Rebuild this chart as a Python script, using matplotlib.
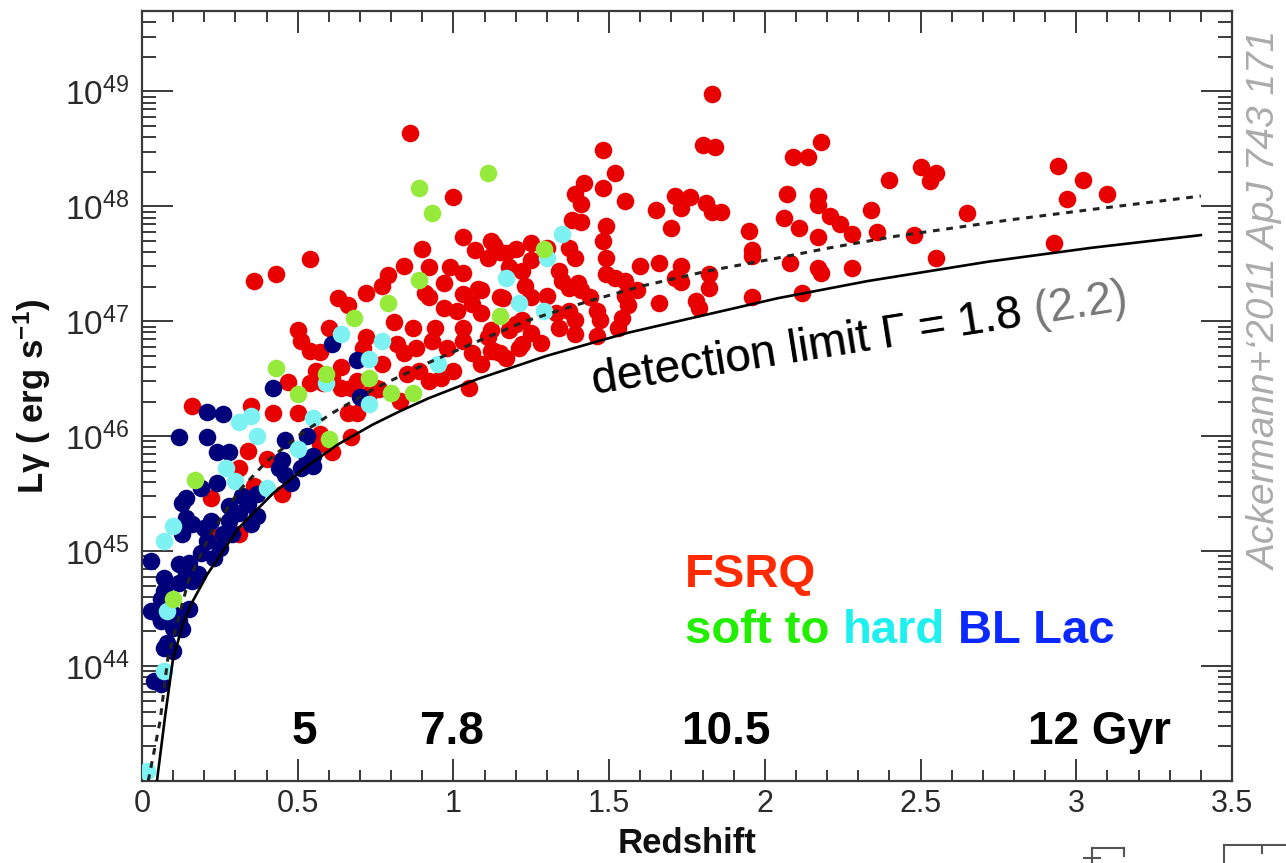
import numpy as np
import matplotlib.pyplot as plt
from matplotlib.ticker import LogLocator, MultipleLocator, FuncFormatter, NullFormatter

plt.rcParams['font.family'] = ['Liberation Sans', 'DejaVu Sans']
plt.rcParams['mathtext.fontset'] = 'custom'
plt.rcParams['mathtext.rm'] = 'Liberation Sans'
plt.rcParams['mathtext.it'] = 'Liberation Sans:italic'
plt.rcParams['mathtext.bf'] = 'Liberation Sans:bold'

# FSRQ (redshift, log10 L)
fsrq_z = [2.18, 2.09, 2.14, 2.07, 2.17, 2.17, 2.06, 2.21, 2.24, 2.11, 1.95, 2.17, 2.28, 2.34,
          2.36, 2.40, 2.50, 2.55, 2.53, 2.65, 2.48, 2.55, 1.96, 1.96, 2.08, 2.17, 2.18, 2.28,
          1.96, 2.12, 2.94, 3.02, 2.97, 3.10, 2.93,
          1.83, 1.80, 1.84, 1.48, 1.52, 1.00, 0.86, 1.42,
          1.39, 1.48, 1.55, 1.41, 1.65, 1.71, 1.73, 1.76, 1.81, 1.83, 1.86, 1.38, 1.41, 1.49,
          1.70, 1.48, 1.49, 1.66, 1.60, 1.73, 1.82, 1.82, 1.71, 1.73, 1.49, 1.52, 1.55, 1.59,
          1.55, 1.66, 1.78, 1.79, 1.56, 1.54, 1.53, 1.46, 1.47, 1.46, 1.39, 1.39, 1.37, 1.41,
          1.40, 1.44, 1.33, 1.34, 1.28, 1.22, 1.25, 1.20, 1.30, 1.25, 1.15, 1.09, 1.11, 1.12,
          1.15, 1.09, 1.12, 1.20, 1.25, 1.30, 1.15, 1.11, 1.18, 1.22, 1.25, 1.34, 1.37, 1.39,
          1.35, 1.37, 1.23,
          0.54, 0.43, 0.36, 1.03, 0.90, 0.84, 0.92, 0.99, 1.03, 1.07, 1.13, 1.17, 0.79, 0.77,
          0.72, 0.63, 0.66, 0.97, 0.91, 0.92, 1.03, 1.08, 1.06, 1.16, 0.97, 1.01, 1.09, 0.81,
          0.87, 0.94, 1.03, 1.12, 1.18, 1.22, 0.50, 0.60, 0.51, 0.72, 0.71, 0.54, 0.57, 0.82,
          0.84, 0.88, 0.93, 0.98, 1.03, 1.06, 1.13, 1.17, 1.21, 0.77, 0.85, 0.89, 0.92, 0.96,
          1.00, 1.05, 0.64, 0.61, 0.56, 0.58, 0.54, 0.47, 0.67, 0.69, 0.75, 0.73, 0.83, 0.66,
          0.69, 0.42, 0.50, 0.35, 0.67,
          0.16, 0.64, 0.76, 0.57, 0.57, 0.61, 0.34, 0.40, 0.31, 0.36, 0.45, 0.22, 0.24, 0.31]
fsrq_logL = [48.56, 48.43, 48.43, 48.11, 48.09, 48.01, 47.90, 47.92, 47.85, 47.81, 47.79, 47.73, 47.76, 47.97,
             47.78, 48.23, 48.34, 48.29, 48.22, 47.94, 47.75, 47.55, 47.62, 47.57, 47.51, 47.46, 47.42, 47.46,
             47.21, 47.25, 48.35, 48.23, 48.06, 48.11, 47.68,
             48.98, 48.53, 48.52, 48.49, 48.29, 48.08, 48.64, 48.20,
             48.11, 48.16, 48.05, 48.02, 47.97, 48.09, 47.99, 48.08, 48.03, 47.95, 47.95, 47.88, 47.86, 47.83,
             47.81, 47.70, 47.55, 47.51, 47.48, 47.48, 47.41, 47.29, 47.38, 47.34, 47.41, 47.38, 47.35, 47.27,
             47.22, 47.16, 47.18, 47.12, 47.14, 47.03, 46.94, 47.09, 47.01, 46.87, 47.01, 46.89, 47.09, 47.27,
             47.33, 47.21, 47.07, 46.94, 46.81, 46.80, 46.90, 46.98, 47.22, 47.21, 47.21, 47.27, 46.86, 46.74,
             46.72, 46.63, 47.70, 47.63, 47.68, 47.64, 47.60, 47.55, 47.47, 47.44, 47.53, 47.44, 47.64, 47.55,
             47.35, 47.29, 47.31,
             47.54, 47.41, 47.35, 47.73, 47.63, 47.48, 47.47, 47.47, 47.42, 47.62, 47.66, 47.59, 47.40, 47.31,
             47.25, 47.20, 47.14, 47.33, 47.25, 47.21, 47.24, 47.28, 47.15, 47.20, 47.12, 47.09, 47.07, 46.99,
             46.94, 46.94, 46.94, 46.92, 46.92, 47.01, 46.92, 46.94, 46.83, 46.86, 46.77, 46.74, 46.73, 46.80,
             46.72, 46.77, 46.83, 46.77, 46.83, 46.72, 46.74, 46.68, 46.77, 46.63, 46.54, 46.57, 46.48, 46.51,
             46.57, 46.42, 46.60, 46.51, 46.57, 46.46, 46.46, 46.47, 46.42, 46.48, 46.42, 46.37, 46.31, 46.20,
             46.20, 46.20, 46.20, 46.26, 45.99,
             46.26, 46.42, 46.41, 46.02, 45.93, 45.86, 45.87, 45.80, 45.72, 45.57, 45.50, 45.46, 45.12, 45.15]

# soft (green), hard (cyan) and BL Lac (navy) sources
soft_z = [0.89, 0.93, 1.11, 1.29, 1.15, 0.89, 0.79, 0.68, 0.43, 0.50, 0.59, 0.73, 0.80, 0.87,
          0.60, 0.17, 0.10]
soft_logL = [48.16, 47.94, 48.29, 47.63, 47.05, 47.36, 47.16, 47.03, 46.59, 46.37, 46.54, 46.51, 46.38, 46.38,
             45.98, 45.62, 44.58]

hard_z = [1.35, 1.30, 1.17, 1.21, 1.29, 0.64, 0.77, 0.73, 0.95, 0.59, 0.73, 0.55, 0.37, 0.31,
          0.10, 0.07, 0.08, 0.07, 0.015, 0.27, 0.30, 0.35, 0.40, 0.50]
hard_logL = [47.76, 47.55, 47.38, 47.16, 47.09, 46.89, 46.83, 46.67, 46.63, 46.46, 46.28, 46.16, 46.00, 46.12,
             45.22, 45.09, 44.48, 43.96, 43.09, 45.72, 45.61, 46.18, 45.55, 45.89]

bllac_z = [0.61, 0.69, 0.42, 0.70, 0.46, 0.53, 0.21, 0.26, 0.12, 0.21, 0.24, 0.28, 0.45, 0.44,
           0.46, 0.55, 0.55, 0.48, 0.24, 0.19, 0.14, 0.13, 0.32, 0.28, 0.31, 0.37, 0.35, 0.14,
           0.13, 0.16, 0.20, 0.22, 0.28, 0.26, 0.29, 0.21, 0.25, 0.23, 0.19, 0.15, 0.12, 0.14,
           0.18, 0.16, 0.03, 0.07, 0.12, 0.07, 0.06, 0.03, 0.05, 0.06, 0.10, 0.12, 0.15, 0.10,
           0.13, 0.08, 0.10, 0.07, 0.04, 0.06, 0.34, 0.37, 0.51, 0.53]
bllac_logL = [46.80, 46.66, 46.42, 46.34, 45.97, 46.00, 46.21, 46.19, 45.99, 45.99, 45.86, 45.86, 45.79, 45.72,
              45.66, 45.83, 45.74, 45.59, 45.59, 45.55, 45.46, 45.42, 45.48, 45.39, 45.33, 45.31, 45.24, 45.29,
              45.15, 45.24, 45.20, 45.26, 45.26, 45.15, 45.15, 45.09, 45.03, 44.94, 44.98, 44.90, 44.89, 44.80,
              44.80, 44.74, 44.91, 44.77, 44.72, 44.65, 44.58, 44.48, 44.45, 44.39, 44.45, 44.39, 44.50, 44.33,
              44.32, 44.20, 44.13, 44.16, 43.87, 43.84, 45.41, 45.50, 45.72, 45.80]

# detection limit curves: Gamma = 1.8 (solid) and 2.2 (dashed)
lim18_z = [0.048, 0.075, 0.099, 0.13, 0.16, 0.21, 0.31, 0.42, 0.53, 0.63, 0.74, 0.83, 0.92, 1.08,
           1.30, 1.56, 1.88, 2.04, 2.33, 2.72, 3.05, 3.40]
lim18_logL = [43.0, 43.58, 44.05, 44.36, 44.55, 44.80, 45.20, 45.50, 45.74, 45.93, 46.10, 46.22, 46.33, 46.50,
              46.70, 46.90, 47.10, 47.20, 47.35, 47.52, 47.64, 47.75]
lim22_z = [0.02, 0.058, 0.083, 0.15, 0.22, 0.31, 0.40, 0.51, 0.61, 0.75, 0.92, 1.09, 1.23, 1.44,
           1.61, 1.82, 2.04, 2.21, 2.42, 2.78, 3.04, 3.40]
lim22_logL = [43.0, 43.52, 44.07, 44.75, 45.15, 45.52, 45.78, 46.02, 46.20, 46.42, 46.64, 46.84, 47.00, 47.18,
              47.31, 47.44, 47.55, 47.64, 47.74, 47.88, 47.97, 48.09]

# lookback-time labels
age_z = [0.522, 0.994, 1.875, 2.846]
age_text = ["5", "7.8", "10.5", "12 Gyr"]
age_ha = ["center", "center", "center", "left"]

x_ticks = [0, 0.5, 1, 1.5, 2, 2.5, 3, 3.5]
x_ticklabels = ["0", "0.5", "1", "1.5", "2", "2.5", "3", "3.5"]


fig = plt.figure(figsize=(12.86, 8.63), dpi=100)
ax = fig.add_axes([142 / 1286, 1 - 781 / 863, 1090 / 1286, 770 / 863])

ms = 160
ax.scatter(fsrq_z, 10 ** np.array(fsrq_logL), s=ms, color='#e80000', linewidths=0, zorder=3)
ax.scatter(bllac_z, 10 ** np.array(bllac_logL), s=ms, color='#00007a', linewidths=0, zorder=4)
ax.scatter(hard_z, 10 ** np.array(hard_logL), s=ms, color='#7ef2f2', linewidths=0, zorder=4)
ax.scatter(soft_z, 10 ** np.array(soft_logL), s=ms, color='#95ea3c', linewidths=0, zorder=4)

ax.plot(lim18_z, 10 ** np.array(lim18_logL), color='black', lw=1.9, zorder=5)
ax.plot(lim22_z, 10 ** np.array(lim22_logL), color='#222222', lw=2.2,
        linestyle=(0, (2.2, 2.2)), zorder=5)

ax.set_yscale('log')
ax.set_xlim(0, 3.5)
ax.set_ylim(1e43, 10 ** 49.70)

ax.set_xticks(x_ticks)
ax.set_xticklabels(x_ticklabels)
ax.xaxis.set_minor_locator(MultipleLocator(0.1))

ax.yaxis.set_major_locator(LogLocator(base=10, numticks=20))
ax.yaxis.set_minor_locator(LogLocator(base=10, subs=np.arange(2, 10), numticks=20))
ax.yaxis.set_minor_formatter(NullFormatter())


def ylab(v, pos):
    e = int(round(np.log10(v)))
    if 44 <= e <= 49:
        return r'$10^{%d}$' % e
    return ''


ax.yaxis.set_major_formatter(FuncFormatter(ylab))

for s in ax.spines.values():
    s.set_linewidth(1.6)
    s.set_color('#3a3a3a')

ax.tick_params(which='both', direction='in', top=True, right=True, color='#3a3a3a',
               width=1.4, labelcolor='#2a2a2a')
ax.tick_params(axis='x', which='major', length=16, labelsize=22, pad=6)
ax.tick_params(axis='x', which='minor', length=8)
ax.tick_params(axis='y', which='major', length=22, labelsize=24, pad=9)
ax.tick_params(axis='y', which='minor', length=10)

ax.set_xlabel("Redshift", fontsize=25, fontweight='bold', color='#111111')
ax.xaxis.set_label_coords(0.5, -0.060)
ax.set_ylabel(r"Lγ ( erg s$^{\mathbf{-1}}$)", fontsize=25, fontweight='bold', color='#111111')
ax.yaxis.set_label_coords(-0.082, 0.5)

# ages
for z, t, ha in zip(age_z, age_text, age_ha):
    ax.text(z, 10 ** 43.32, t, fontsize=33, fontweight='bold', ha=ha, va='baseline', zorder=6)

# detection limit label, "(2.2)" left gray under the black part
det_kw = dict(rotation=9, rotation_mode='anchor', ha='left', va='baseline', fontsize=33, zorder=6)
ax.text(1.452, 10 ** 46.37, "detection limit Γ = 1.8 (2.2)", color='#777777', **det_kw)
ax.text(1.452, 10 ** 46.37, "detection limit Γ = 1.8", color='black', **det_kw)

# class legend, each coloured word placed after the previous one
leg_kw = dict(fontsize=34, fontweight='bold', zorder=6)
space = 0.278 * 34
ax.text(1.744, 10 ** 44.69, "FSRQ", color='#ff2a00', ha='left', va='baseline', **leg_kw)
t_soft = ax.text(1.744, 10 ** 44.20, "soft to", color='#22ee00', ha='left', va='baseline', **leg_kw)
t_hard = ax.annotate("hard", xy=(1, 0), xycoords=t_soft, xytext=(space, 0),
                     textcoords='offset points', color='#1ef0f0', ha='left', va='bottom', **leg_kw)
ax.annotate("BL Lac", xy=(1, 0), xycoords=t_hard, xytext=(space, 0),
            textcoords='offset points', color='#0a28ff', ha='left', va='bottom', **leg_kw)

fig.text(1266 / 1286, 1 - 300 / 863, "Ackermann+\u20182011 ApJ 743 171", rotation=90,
         style='italic', color='#ababab', fontsize=28, ha='center', va='center')

# bits of the slide cut off at the bottom right
def px_line(xs, ys):
    fig.add_artist(plt.Line2D([x / 1286 for x in xs], [1 - y / 863 for y in ys],
                              transform=fig.transFigure, color='#555555', lw=1.5))

px_line([1224, 1286], [845, 845])
px_line([1224, 1224], [845, 863])
px_line([1262, 1262], [845, 853])
px_line([1092, 1124], [848, 848])
px_line([1124, 1124], [848, 856])
px_line([1092, 1092], [848, 863])
px_line([1084, 1100], [858, 858])

plt.savefig("out.png", dpi=100)
